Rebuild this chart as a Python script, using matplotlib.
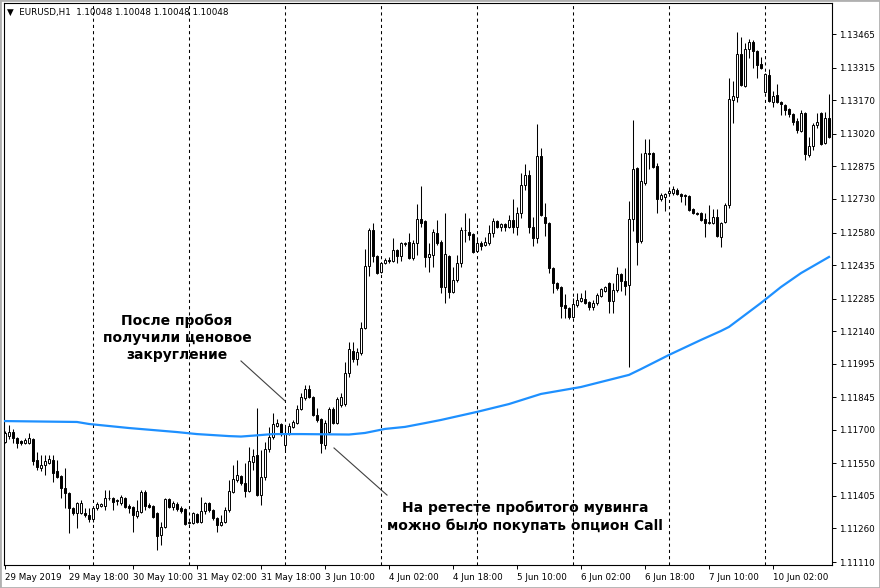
import matplotlib.pyplot as plt
from matplotlib.patches import Rectangle

plt.rcParams['font.family'] = 'DejaVu Sans'

# EURUSD H1 candles, 29 May 02:00 .. 10 Jun 16:00 (one bar per hour)
opens = [
    1.11646, 1.11672, 1.11690, 1.11663, 1.11650, 1.11641, 1.11641, 1.11659, 1.11565, 1.11530,
    1.11543, 1.11552, 1.11565, 1.11516, 1.11494, 1.11441, 1.11418, 1.11351, 1.11329, 1.11329,
    1.11329, 1.11320, 1.11302, 1.11351, 1.11360, 1.11360, 1.11396, 1.11396, 1.11383, 1.11374,
    1.11396, 1.11360, 1.11356, 1.11316, 1.11333, 1.11423, 1.11365, 1.11360, 1.11329, 1.11231,
    1.11267, 1.11392, 1.11356, 1.11369, 1.11351, 1.11347, 1.11284, 1.11284, 1.11325, 1.11289,
    1.11338, 1.11374, 1.11342, 1.11307, 1.11276, 1.11289, 1.11342, 1.11423, 1.11476, 1.11494,
    1.11463, 1.11427, 1.11557, 1.11588, 1.11409, 1.11490, 1.11615, 1.11668, 1.11717, 1.11726,
    1.11632, 1.11681, 1.11713, 1.11730, 1.11793, 1.11842, 1.11882, 1.11846, 1.11766, 1.11748,
    1.11632, 1.11690, 1.11793, 1.11730, 1.11811, 1.11815, 1.11953, 1.12052, 1.12016, 1.12043,
    1.12154, 1.12431, 1.12591, 1.12475, 1.12404, 1.12444, 1.12457, 1.12453, 1.12502, 1.12475,
    1.12529, 1.12538, 1.12466, 1.12533, 1.12640, 1.12631, 1.12471, 1.12480, 1.12578, 1.12538,
    1.12337, 1.12475, 1.12315, 1.12368, 1.12444, 1.12591, 1.12582, 1.12573, 1.12498, 1.12533,
    1.12524, 1.12533, 1.12578, 1.12631, 1.12605, 1.12618, 1.12605, 1.12636, 1.12605, 1.12667,
    1.12792, 1.12836, 1.12605, 1.12556, 1.12921, 1.12649, 1.12622, 1.12422, 1.12355, 1.12337,
    1.12257, 1.12243, 1.12203, 1.12257, 1.12275, 1.12284, 1.12270, 1.12248, 1.12266, 1.12297,
    1.12319, 1.12355, 1.12275, 1.12324, 1.12395, 1.12364, 1.12346, 1.12640, 1.12868, 1.12542,
    1.12801, 1.12935, 1.12935, 1.12877, 1.12730, 1.12738, 1.12756, 1.12756, 1.12770, 1.12752,
    1.12747, 1.12743, 1.12685, 1.12667, 1.12667, 1.12640, 1.12622, 1.12622, 1.12649, 1.12560,
    1.12627, 1.12703, 1.13171, 1.13184, 1.13376, 1.13233, 1.13399, 1.13430, 1.13390, 1.13332,
    1.13207, 1.13283, 1.13162, 1.13193, 1.13162, 1.13149, 1.13131, 1.13109, 1.13077, 1.13033,
    1.13113, 1.12926, 1.12966, 1.13060, 1.13113, 1.12979, 1.13091,
]
highs = [
    1.11695, 1.11721, 1.11704, 1.11668, 1.11655, 1.11663, 1.11686, 1.11663, 1.11601, 1.11588,
    1.11588, 1.11588, 1.11588, 1.11565, 1.11499, 1.11530, 1.11423, 1.11356, 1.11378, 1.11387,
    1.11351, 1.11351, 1.11356, 1.11378, 1.11374, 1.11432, 1.11432, 1.11400, 1.11392, 1.11409,
    1.11400, 1.11369, 1.11360, 1.11387, 1.11432, 1.11432, 1.11374, 1.11365, 1.11333, 1.11289,
    1.11396, 1.11396, 1.11383, 1.11378, 1.11360, 1.11351, 1.11293, 1.11333, 1.11329, 1.11400,
    1.11378, 1.11378, 1.11347, 1.11311, 1.11320, 1.11356, 1.11476, 1.11543, 1.11565, 1.11499,
    1.11552, 1.11623, 1.11615, 1.11797, 1.11610, 1.11646, 1.11713, 1.11775, 1.11748, 1.11730,
    1.11713, 1.11730, 1.11744, 1.11811, 1.11864, 1.11900, 1.11900, 1.11851, 1.11797, 1.11753,
    1.11744, 1.11802, 1.11802, 1.11846, 1.11864, 1.12003, 1.12092, 1.12092, 1.12065, 1.12181,
    1.12507, 1.12600, 1.12622, 1.12479, 1.12449, 1.12466, 1.12471, 1.12556, 1.12507, 1.12538,
    1.12538, 1.12578, 1.12547, 1.12707, 1.12787, 1.12636, 1.12533, 1.12596, 1.12636, 1.12547,
    1.12667, 1.12480, 1.12426, 1.12480, 1.12605, 1.12667, 1.12645, 1.12578, 1.12556, 1.12542,
    1.12560, 1.12614, 1.12645, 1.12636, 1.12622, 1.12622, 1.12658, 1.12730, 1.12694, 1.12845,
    1.12886, 1.12859, 1.12649, 1.13064, 1.12957, 1.12712, 1.12627, 1.12426, 1.12359, 1.12341,
    1.12306, 1.12248, 1.12288, 1.12310, 1.12310, 1.12324, 1.12275, 1.12279, 1.12310, 1.12333,
    1.12341, 1.12359, 1.12355, 1.12426, 1.12399, 1.12422, 1.12721, 1.13082, 1.12872, 1.12935,
    1.12997, 1.12997, 1.12939, 1.12890, 1.12756, 1.12756, 1.12779, 1.12787, 1.12779, 1.12756,
    1.12752, 1.12747, 1.12689, 1.12672, 1.12672, 1.12667, 1.12703, 1.12685, 1.12685, 1.12627,
    1.12712, 1.13269, 1.13256, 1.13474, 1.13452, 1.13425, 1.13443, 1.13439, 1.13394, 1.13363,
    1.13291, 1.13309, 1.13211, 1.13242, 1.13167, 1.13153, 1.13135, 1.13113, 1.13091, 1.13126,
    1.13118, 1.13006, 1.13068, 1.13113, 1.13118, 1.13118, 1.13198,
]
lows = [
    1.11641, 1.11659, 1.11641, 1.11619, 1.11632, 1.11637, 1.11637, 1.11543, 1.11521, 1.11516,
    1.11499, 1.11548, 1.11467, 1.11485, 1.11396, 1.11351, 1.11240, 1.11320, 1.11262, 1.11325,
    1.11311, 1.11289, 1.11289, 1.11342, 1.11356, 1.11342, 1.11387, 1.11342, 1.11365, 1.11365,
    1.11351, 1.11329, 1.11244, 1.11307, 1.11329, 1.11342, 1.11351, 1.11307, 1.11164, 1.11186,
    1.11262, 1.11351, 1.11342, 1.11338, 1.11329, 1.11276, 1.11280, 1.11280, 1.11284, 1.11284,
    1.11325, 1.11333, 1.11298, 1.11244, 1.11271, 1.11284, 1.11333, 1.11418, 1.11467, 1.11454,
    1.11400, 1.11423, 1.11521, 1.11405, 1.11365, 1.11476, 1.11601, 1.11659, 1.11713, 1.11672,
    1.11610, 1.11677, 1.11708, 1.11726, 1.11788, 1.11833, 1.11842, 1.11762, 1.11735, 1.11597,
    1.11615, 1.11686, 1.11726, 1.11726, 1.11802, 1.11806, 1.11936, 1.12003, 1.11989, 1.12034,
    1.12150, 1.12386, 1.12449, 1.12395, 1.12399, 1.12440, 1.12444, 1.12449, 1.12444, 1.12453,
    1.12520, 1.12462, 1.12457, 1.12480, 1.12605, 1.12426, 1.12404, 1.12426, 1.12524, 1.12310,
    1.12266, 1.12288, 1.12310, 1.12359, 1.12426, 1.12538, 1.12547, 1.12489, 1.12493, 1.12502,
    1.12520, 1.12524, 1.12560, 1.12600, 1.12587, 1.12587, 1.12600, 1.12578, 1.12569, 1.12645,
    1.12770, 1.12578, 1.12520, 1.12533, 1.12654, 1.12564, 1.12399, 1.12310, 1.12324, 1.12199,
    1.12199, 1.12194, 1.12199, 1.12248, 1.12270, 1.12261, 1.12234, 1.12234, 1.12257, 1.12292,
    1.12315, 1.12221, 1.12221, 1.12315, 1.12319, 1.12301, 1.11980, 1.12587, 1.12435, 1.12533,
    1.12792, 1.12863, 1.12868, 1.12667, 1.12721, 1.12676, 1.12747, 1.12747, 1.12747, 1.12716,
    1.12703, 1.12676, 1.12663, 1.12658, 1.12631, 1.12560, 1.12618, 1.12618, 1.12560, 1.12515,
    1.12622, 1.12689, 1.13068, 1.13162, 1.13233, 1.13229, 1.13358, 1.13314, 1.13269, 1.13309,
    1.13202, 1.13162, 1.13140, 1.13158, 1.13104, 1.13104, 1.13095, 1.13060, 1.13024, 1.13028,
    1.12903, 1.12917, 1.12948, 1.13046, 1.12970, 1.12975, 1.13002,
]
closes = [
    1.11686, 1.11690, 1.11663, 1.11641, 1.11641, 1.11655, 1.11663, 1.11561, 1.11534, 1.11543,
    1.11561, 1.11570, 1.11507, 1.11490, 1.11441, 1.11418, 1.11351, 1.11329, 1.11374, 1.11374,
    1.11320, 1.11302, 1.11351, 1.11369, 1.11369, 1.11396, 1.11394, 1.11378, 1.11387, 1.11400,
    1.11356, 1.11351, 1.11320, 1.11338, 1.11423, 1.11360, 1.11356, 1.11311, 1.11226, 1.11267,
    1.11392, 1.11356, 1.11374, 1.11347, 1.11338, 1.11280, 1.11289, 1.11329, 1.11289, 1.11338,
    1.11374, 1.11342, 1.11307, 1.11276, 1.11289, 1.11342, 1.11427, 1.11481, 1.11499, 1.11463,
    1.11427, 1.11561, 1.11583, 1.11409, 1.11490, 1.11615, 1.11668, 1.11726, 1.11730, 1.11681,
    1.11686, 1.11717, 1.11735, 1.11793, 1.11846, 1.11882, 1.11846, 1.11766, 1.11744, 1.11641,
    1.11730, 1.11793, 1.11730, 1.11838, 1.11846, 1.11953, 1.12061, 1.12016, 1.12047, 1.12154,
    1.12431, 1.12591, 1.12475, 1.12399, 1.12444, 1.12457, 1.12455, 1.12502, 1.12475, 1.12533,
    1.12533, 1.12466, 1.12533, 1.12640, 1.12622, 1.12471, 1.12484, 1.12582, 1.12533, 1.12337,
    1.12484, 1.12315, 1.12368, 1.12444, 1.12591, 1.12589, 1.12569, 1.12493, 1.12533, 1.12520,
    1.12538, 1.12578, 1.12631, 1.12605, 1.12618, 1.12605, 1.12636, 1.12605, 1.12667, 1.12792,
    1.12836, 1.12605, 1.12556, 1.12921, 1.12658, 1.12622, 1.12422, 1.12355, 1.12333, 1.12252,
    1.12243, 1.12203, 1.12261, 1.12279, 1.12288, 1.12266, 1.12248, 1.12266, 1.12301, 1.12328,
    1.12337, 1.12275, 1.12324, 1.12395, 1.12364, 1.12341, 1.12640, 1.12863, 1.12538, 1.12810,
    1.12935, 1.12930, 1.12872, 1.12730, 1.12747, 1.12752, 1.12765, 1.12774, 1.12752, 1.12743,
    1.12743, 1.12680, 1.12667, 1.12663, 1.12636, 1.12622, 1.12627, 1.12649, 1.12564, 1.12622,
    1.12703, 1.13176, 1.13189, 1.13376, 1.13238, 1.13399, 1.13430, 1.13390, 1.13327, 1.13314,
    1.13287, 1.13167, 1.13189, 1.13162, 1.13153, 1.13126, 1.13109, 1.13073, 1.13037, 1.13113,
    1.12930, 1.12966, 1.13060, 1.13073, 1.12975, 1.13091, 1.13006,
]

# moving average, read at a number of bars
ma_bars = [0, 18, 21, 26, 31, 37, 43, 48, 56, 59, 62, 67, 74, 86, 90, 95, 100, 105, 109,
           118, 126, 134, 144, 156, 159, 166, 174, 179, 181, 184, 189, 194, 199, 206]
ma_values = [1.11739, 1.11735, 1.11726, 1.11717, 1.11708, 1.11699, 1.11690, 1.11681, 1.11672,
             1.11670, 1.11674, 1.11681, 1.11681, 1.11679, 1.11686, 1.11704, 1.11713, 1.11730,
             1.11744, 1.11780, 1.11815, 1.11860, 1.11891, 1.11945, 1.11971, 1.12034, 1.12101,
             1.12141, 1.12159, 1.12199, 1.12266, 1.12337, 1.12399, 1.12471]

price_ticks = [1.11110, 1.11260, 1.11405, 1.11550, 1.11700, 1.11845, 1.11995, 1.12140, 1.12285,
               1.12435, 1.12580, 1.12730, 1.12875, 1.13020, 1.13170, 1.13315, 1.13465]
time_ticks = [0, 16, 32, 48, 64, 80, 96, 112, 128, 144, 160, 176, 192]
time_labels = ["29 May 2019", "29 May 18:00", "30 May 10:00", "31 May 02:00", "31 May 18:00",
               "3 Jun 10:00", "4 Jun 02:00", "4 Jun 18:00", "5 Jun 10:00", "6 Jun 02:00",
               "6 Jun 18:00", "7 Jun 10:00", "10 Jun 02:00"]
day_breaks = [22, 46, 70, 94, 118, 142, 166, 190]

# leader lines of the two notes (bar, price)
note1_x = [59, 70]
note1_y = [1.12007, 1.11829]
note2_x = [82.25, 95.5]
note2_y = [1.11619, 1.11409]

fig = plt.figure(figsize=(8.8, 5.88), dpi=100)
ax = fig.add_axes([4 / 880, 23 / 588, 828 / 880, 562 / 588])

bars = range(len(opens))
for d in day_breaks:
    ax.axvline(d, color='black', linewidth=0.75, linestyle=(0, (3, 3)), zorder=1)

ax.vlines(bars, lows, highs, color='black', linewidth=0.75, zorder=2)
bottoms = [min(o, c) for o, c in zip(opens, closes)]
heights = [abs(c - o) for o, c in zip(opens, closes)]
colors = ['white' if c >= o else 'black' for o, c in zip(opens, closes)]
ax.bar(bars, heights, bottom=bottoms, width=0.5, color=colors,
       edgecolor='black', linewidth=0.7, zorder=3)

ax.plot(ma_bars, ma_values, color='#1e90ff', linewidth=1.6, zorder=4)

ax.plot(note1_x, note1_y, color='#404040', linewidth=0.8, zorder=5)
ax.plot(note2_x, note2_y, color='#404040', linewidth=0.8, zorder=5)
ax.text(43, 1.12110, "После пробоя\nполучили ценовое\nзакругление", ha='center', va='center',
        fontsize=10, fontweight='bold', linespacing=1.3, zorder=6)
ax.text(130, 1.11311, "На ретесте пробитого мувинга\nможно было покупать опцион Call",
        ha='center', va='center', fontsize=10, fontweight='bold', linespacing=1.3, zorder=6)

ax.set_xlim(-0.25, 206.75)
ax.set_ylim(1.110971, 1.136036)

ax.yaxis.tick_right()
ax.set_yticks(price_ticks)
ax.set_yticklabels(["%.5f" % p for p in price_ticks])
ax.tick_params(axis='y', direction='out', length=3, width=0.7, pad=2, labelsize=6.3)

ax.set_xticks(time_ticks)
ax.set_xticklabels(time_labels, ha='left')
ax.tick_params(axis='x', direction='out', length=3, width=0.7, pad=3, labelsize=6.3)

for s in ax.spines.values():
    s.set_linewidth(0.8)

fig.text(7 / 880, 1 - 12 / 588, "\u25bc  EURUSD,H1  1.10048 1.10048 1.10048 1.10048",
         fontsize=6.3, va='center', ha='left')
fig.add_artist(Rectangle((0, 0), 1, 1, transform=fig.transFigure, fill=False,
                         edgecolor='#b0b0b0', linewidth=2))

fig.savefig('out.png', dpi=100)
